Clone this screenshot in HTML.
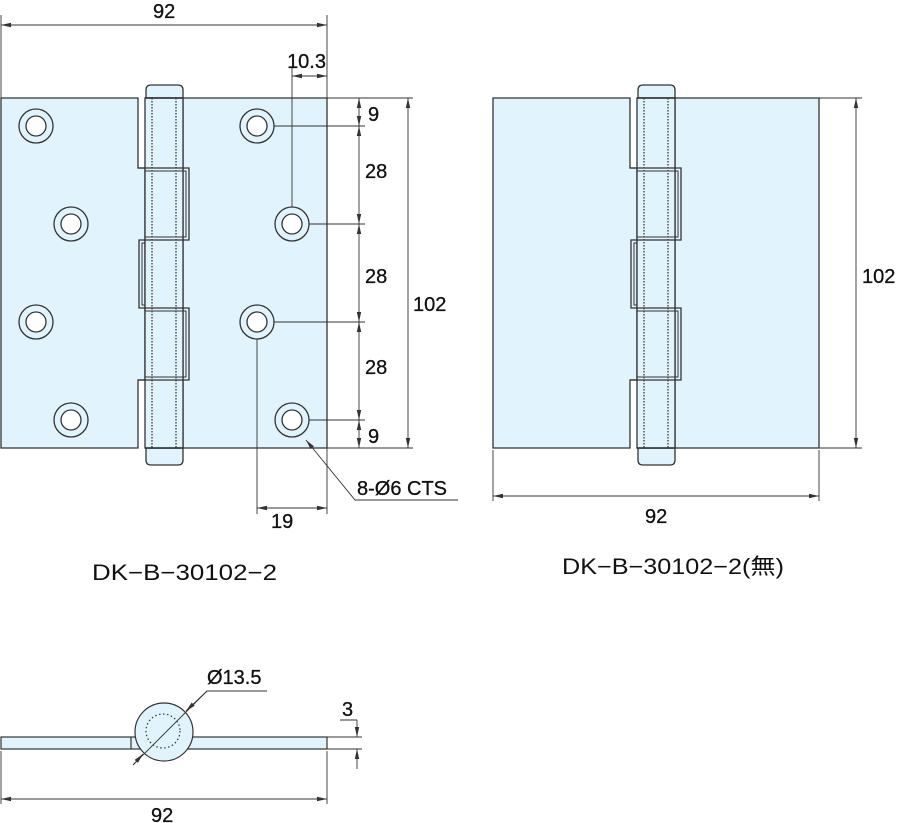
<!DOCTYPE html>
<html><head><meta charset="utf-8"><style>
html,body{margin:0;padding:0;background:#fff;}
svg{display:block;}
text{font-family:"Liberation Sans","Noto Sans CJK JP",sans-serif;fill:#111;}
.d{font-size:20px;stroke:#111;stroke-width:0.3px;}
</style></head><body>
<svg width="900" height="823" viewBox="0 0 900 823" xmlns="http://www.w3.org/2000/svg">
<defs>
<marker id="a" viewBox="0 0 10 6" refX="10" refY="3" markerWidth="10" markerHeight="6" orient="auto-start-reverse" markerUnits="userSpaceOnUse">
<path d="M0,0.8 L10,3 L0,5.2 Z" fill="#333"/></marker>
<g id="hinge">
  <path d="M1,98 H138 V168 H145 V380 H138 V448 H1 Z" fill="#e1f3fc" stroke="#333" stroke-width="1.3"/>
  <path d="M183,98 H327 V448 H183 Z" fill="#e1f3fc" stroke="#333" stroke-width="1.3"/>
  <path d="M146,98 V90 Q146,85 151,85 H178 Q183,85 183,90 V98 Z" fill="#e1f3fc" stroke="#333" stroke-width="1.3"/>
  <path d="M146,448 V460 Q146,465 151,465 H178 Q183,465 183,460 V448 Z" fill="#e1f3fc" stroke="#333" stroke-width="1.3"/>
  <rect x="145" y="98" width="38" height="350" fill="#e1f3fc" stroke="#333" stroke-width="1.3"/>
  <path d="M145,168 H189 V240 H145" fill="none" stroke="#333" stroke-width="1.3"/>
  <path d="M145,171 H186 V237 H145" fill="none" stroke="#333" stroke-width="1"/>
  <path d="M145,240 H139 V308 H145" fill="none" stroke="#333" stroke-width="1.3"/>
  <path d="M145,243 H142 V305 H145" fill="none" stroke="#333" stroke-width="1"/>
  <path d="M145,308 H189 V380 H145" fill="none" stroke="#333" stroke-width="1.3"/>
  <path d="M145,311 H186 V377 H145" fill="none" stroke="#333" stroke-width="1"/>
  <path d="M138,380 H145 M138,168 H145" stroke="#333" stroke-width="1.3"/>
  <line x1="152" y1="98" x2="152" y2="448" stroke="#444" stroke-width="1.4" stroke-dasharray="1.5,1.5"/>
  <line x1="176" y1="98" x2="176" y2="448" stroke="#444" stroke-width="1.4" stroke-dasharray="1.5,1.5"/>
  <line x1="145" y1="98" x2="183" y2="98" stroke="#333" stroke-width="1.6"/>
  <line x1="145" y1="448" x2="183" y2="448" stroke="#333" stroke-width="1.6"/>
</g>
</defs>

<use href="#hinge"/>
<g fill="#fff" stroke="#333" stroke-width="1.3">
<circle cx="36" cy="126" r="17" fill="none"/><circle cx="36" cy="126" r="10"/>
<circle cx="71" cy="224" r="17" fill="none"/><circle cx="71" cy="224" r="10"/>
<circle cx="36" cy="322" r="17" fill="none"/><circle cx="36" cy="322" r="10"/>
<circle cx="71" cy="420" r="17" fill="none"/><circle cx="71" cy="420" r="10"/>
<circle cx="257" cy="126" r="17" fill="none"/><circle cx="257" cy="126" r="10"/>
<circle cx="292" cy="224" r="17" fill="none"/><circle cx="292" cy="224" r="10"/>
<circle cx="257" cy="322" r="17" fill="none"/><circle cx="257" cy="322" r="10"/>
<circle cx="292" cy="420" r="17" fill="none"/><circle cx="292" cy="420" r="10"/>
</g>

<g stroke="#333" stroke-width="0.9" fill="none">
<line x1="1" y1="15" x2="1" y2="98"/><line x1="327" y1="15" x2="327" y2="98"/>
<line x1="1" y1="25" x2="327" y2="25" marker-start="url(#a)" marker-end="url(#a)"/>
<line x1="292" y1="68" x2="292" y2="207"/>
<line x1="292" y1="76" x2="327" y2="76" marker-start="url(#a)" marker-end="url(#a)"/>
<line x1="327" y1="98" x2="413" y2="98"/>
<line x1="327" y1="448" x2="413" y2="448"/>
<line x1="274" y1="126" x2="365" y2="126"/>
<line x1="309" y1="224" x2="365" y2="224"/>
<line x1="274" y1="322" x2="365" y2="322"/>
<line x1="309" y1="420" x2="365" y2="420"/>
<line x1="359" y1="98" x2="359" y2="126" marker-start="url(#a)" marker-end="url(#a)"/>
<line x1="359" y1="126" x2="359" y2="224" marker-start="url(#a)" marker-end="url(#a)"/>
<line x1="359" y1="224" x2="359" y2="322" marker-start="url(#a)" marker-end="url(#a)"/>
<line x1="359" y1="322" x2="359" y2="420" marker-start="url(#a)" marker-end="url(#a)"/>
<line x1="359" y1="420" x2="359" y2="448" marker-start="url(#a)" marker-end="url(#a)"/>
<line x1="408" y1="98" x2="408" y2="448" marker-start="url(#a)" marker-end="url(#a)"/>
<line x1="257" y1="339" x2="257" y2="514"/>
<line x1="327" y1="448" x2="327" y2="514"/>
<line x1="257" y1="508" x2="327" y2="508" marker-start="url(#a)" marker-end="url(#a)"/>
<path d="M458,500 H355 L306,440" marker-end="url(#a)"/>
</g>
<g class="d">
<text x="153" y="18">92</text>
<text x="326" y="68" text-anchor="end">10.3</text>
<text x="368" y="121">9</text>
<text x="365" y="178">28</text>
<text x="365" y="283">28</text>
<text x="365" y="374">28</text>
<text x="368" y="443">9</text>
<text x="413" y="311">102</text>
<text x="271" y="528">19</text>
<text x="357" y="495">8-Ø6 CTS</text>
</g>
<text x="92" y="580" font-size="22" textLength="185" lengthAdjust="spacingAndGlyphs">DK−B−30102−2</text>

<use href="#hinge" transform="translate(492,0)"/>
<g stroke="#333" stroke-width="0.9" fill="none">
<line x1="819" y1="98" x2="862" y2="98"/><line x1="819" y1="448" x2="862" y2="448"/>
<line x1="856" y1="98" x2="856" y2="448" marker-start="url(#a)" marker-end="url(#a)"/>
<line x1="493" y1="450" x2="493" y2="501"/><line x1="819" y1="450" x2="819" y2="501"/>
<line x1="493" y1="496" x2="819" y2="496" marker-start="url(#a)" marker-end="url(#a)"/>
</g>
<g class="d">
<text x="862" y="283">102</text>
<text x="645" y="523">92</text>
</g>
<text x="562" y="574" font-size="22" textLength="222" lengthAdjust="spacingAndGlyphs">DK−B−30102−2(無)</text>

<g stroke="#333" stroke-width="1.2">
<rect x="1" y="737" width="326" height="12" fill="#e1f3fc"/>
<line x1="131" y1="737" x2="131" y2="749"/>
<circle cx="164" cy="732" r="29" fill="#e1f3fc"/>
<circle cx="163" cy="731" r="17" fill="none" stroke-width="1.2" stroke-dasharray="1.5,2.5"/>
</g>
<g stroke="#333" stroke-width="0.9" fill="none">
<path d="M267,691 H207 L133,765"/>
<line x1="207" y1="691" x2="186" y2="711" marker-end="url(#a)"/>
<line x1="133" y1="765" x2="143" y2="754" marker-end="url(#a)"/>
<line x1="327" y1="737" x2="362" y2="737"/><line x1="327" y1="749" x2="362" y2="749"/>
<line x1="340" y1="720" x2="357" y2="720"/>
<line x1="357" y1="720" x2="357" y2="737" marker-end="url(#a)"/>
<line x1="357" y1="769" x2="357" y2="749" marker-end="url(#a)"/>
<line x1="1" y1="751" x2="1" y2="804"/><line x1="327" y1="751" x2="327" y2="804"/>
<line x1="1" y1="799" x2="327" y2="799" marker-start="url(#a)" marker-end="url(#a)"/>
</g>
<g class="d">
<text x="207" y="684">Ø13.5</text>
<text x="342" y="716">3</text>
<text x="151" y="822">92</text>
</g>
</svg>
</body></html>
